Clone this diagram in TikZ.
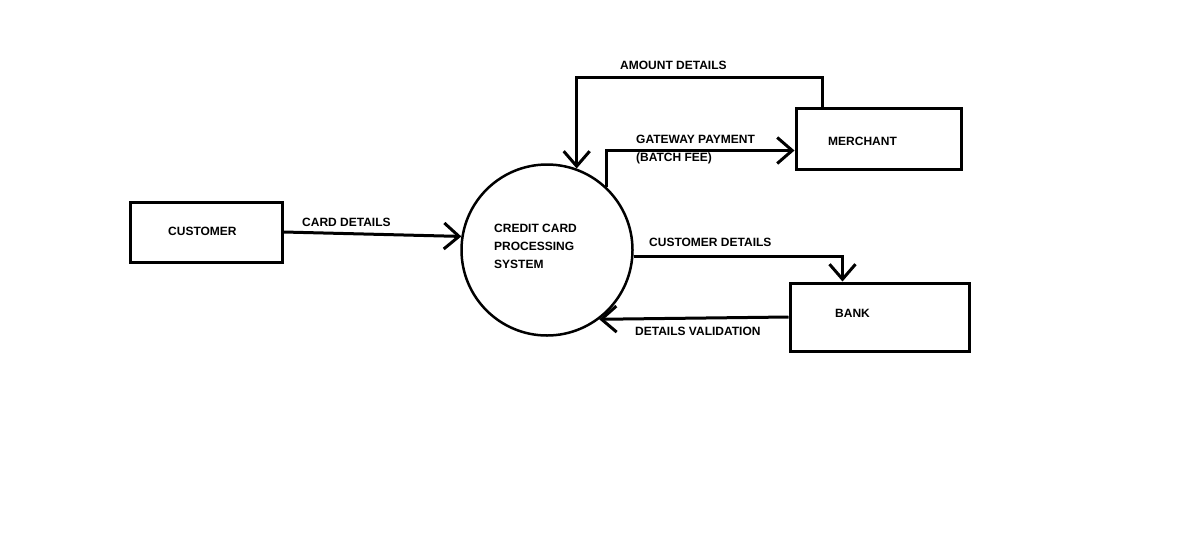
\documentclass[tikz,border=0pt]{standalone}
\usepackage{fontspec}
\setmainfont{Liberation Sans}
\usetikzlibrary{arrows.meta}
\tikzset{box/.style={draw,line width=3pt,inner sep=0pt},
  flow/.style={line width=3pt,-{Straight Barb[length=15pt 0 0,width=26pt 0 0,line width=3pt]}},
  lbl/.style={anchor=west,inner sep=0pt,font=\fontsize{12}{18}\selectfont\bfseries,text height=8.6pt,text depth=0pt}}

\begin{document}
\begin{tikzpicture}[x=1pt, y=-1pt]
    \useasboundingbox (0, 0) rectangle (1180, 552);

    \node [box, minimum width=152pt, minimum height=60pt] (customer) at (206, 232) {};
    \node [box, minimum width=165pt, minimum height=61pt] (merchant) at (878.5, 138.5) {};
    \node [box, minimum width=179pt, minimum height=68pt] (bank) at (879.5, 317) {};
    \node [box, circle, line width=2.5pt, minimum size=171pt] (sys) at (547, 250) {};

    \node [lbl] (customer-text) at (168, 231) {CUSTOMER};
    \node [lbl] (merchant-text) at (828, 141) {MERCHANT};
    \node [lbl] (bank-text) at (835, 313) {BANK};
    \node [lbl, align=left] (sys-text) at (494, 264) {CREDIT CARD\\PROCESSING\\SYSTEM};

    \draw [flow] (customer.east) -- (sys.171);
    \draw [flow] ([xshift=28pt]merchant.north west) -- ++(0, -29) -| (sys.70);
    \draw [flow] (sys.47) |- ([yshift=-12pt]merchant.west);
    \draw [flow] (sys.-4) -| ([xshift=54pt]bank.north west);
    \draw [flow] (bank.west) -- (sys.-53);

    \node [lbl] (card) at (302, 222) {CARD DETAILS};
    \node [lbl] (amount) at (620, 65) {AMOUNT DETAILS};
    \node [lbl] (gateway) at (636, 139) {GATEWAY PAYMENT};
    \node [lbl] (fee) at (636, 157) {(BATCH FEE)};
    \node [lbl] (cust-details) at (649, 242) {CUSTOMER DETAILS};
    \node [lbl] (validation) at (635, 331) {DETAILS VALIDATION};
\end{tikzpicture}
\end{document}
